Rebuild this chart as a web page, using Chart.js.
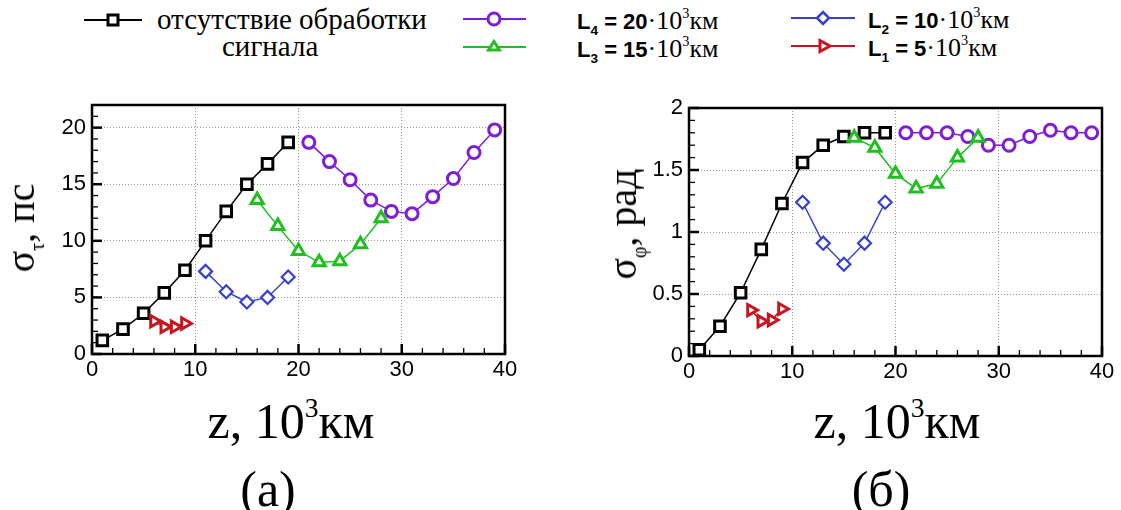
<!DOCTYPE html>
<html>
<head>
<meta charset="utf-8">
<script src="https://cdn.jsdelivr.net/npm/chart.js@4/dist/chart.umd.min.js"></script>
<style>
  body { margin: 0; background: #fff; width: 1121px; height: 510px; position: relative; overflow: hidden;
         font-family: "Liberation Serif", "Times New Roman", serif; color: #000; }
  .abs { position: absolute; white-space: nowrap; line-height: 1; }
  canvas { position: absolute; }
  .leg { font-size: 29px; }
  .legL { font-size: 26px; }
  .bold { font-family: "Liberation Sans", Arial, sans-serif; font-weight: bold; font-size: 22px; }
  .lsub { font-size: 0.62em; vertical-align: -0.45em; }
  .sup { font-size: 0.55em; vertical-align: 0.75em; }
  .title { font-size: 50px; }
  .ytitle { font-size: 40px; }
  .ysub { font-size: 0.5em; vertical-align: -0.5em; }
  .rot { transform: translate(-50%, -50%) rotate(-90deg); }
  .ctr { transform: translate(-50%, -50%); }
</style>
</head>
<body>

<!-- legend -->
<svg class="abs" style="left:0;top:0" width="1121" height="70">
  <line x1="84" y1="20" x2="142" y2="20" stroke="#000" stroke-width="2"/>
  <rect x="108" y="15" width="10" height="10" fill="#fff" stroke="#000" stroke-width="3"/>
  <line x1="463" y1="19" x2="526" y2="19" stroke="#7f1dd9" stroke-width="2"/>
  <circle cx="494" cy="19" r="6" fill="#fff" stroke="#7f1dd9" stroke-width="3"/>
  <line x1="463" y1="47" x2="526" y2="47" stroke="#1fbf1f" stroke-width="2"/>
  <polygon points="494,41.5 499.5,50 488.5,50" fill="#fff" stroke="#1fbf1f" stroke-width="3"/>
  <line x1="791" y1="18" x2="855" y2="18" stroke="#3540d0" stroke-width="2"/>
  <polygon points="823,12 829,18 823,24 817,18" fill="#fff" stroke="#3540d0" stroke-width="2.5"/>
  <line x1="791" y1="46" x2="855" y2="46" stroke="#c8141e" stroke-width="2"/>
  <polygon points="830,46 820,40.5 820,51.5" fill="#fff" stroke="#c8141e" stroke-width="3"/>
</svg>
<div class="abs leg" style="left:157px;top:5px">отсутствие обработки</div>
<div class="abs leg" style="left:222px;top:32px">сигнала</div>
<div class="abs" style="left:577px;top:6px"><span class="bold">L<span class="lsub">4</span> = 20</span><span class="legL">·10<span class="sup">3</span>км</span></div>
<div class="abs" style="left:577px;top:34px"><span class="bold">L<span class="lsub">3</span> = 15</span><span class="legL">·10<span class="sup">3</span>км</span></div>
<div class="abs" style="left:868px;top:5px"><span class="bold">L<span class="lsub">2</span> = 10</span><span class="legL">·10<span class="sup">3</span>км</span></div>
<div class="abs" style="left:868px;top:33px"><span class="bold">L<span class="lsub">1</span> = 5</span><span class="legL">·10<span class="sup">3</span>км</span></div>

<canvas id="chartTau" width="540" height="310" style="left:0;top:80px"></canvas>
<canvas id="chartPhi" width="531" height="310" style="left:590px;top:80px"></canvas>

<!-- axis titles -->
<div class="abs ytitle rot" style="left:24px;top:228px">σ<span class="ysub">τ</span>, пс</div>
<div class="abs ytitle rot" style="left:626px;top:224px">σ<span class="ysub">φ</span>, рад</div>
<div class="abs title ctr" style="left:291px;top:420px">z, 10<span class="sup">3</span>км</div>
<div class="abs title ctr" style="left:897px;top:420px">z, 10<span class="sup">3</span>км</div>
<div class="abs title ctr" style="left:268px;top:489px">(а)</div>
<div class="abs title ctr" style="left:881px;top:489px">(б)</div>

<script>
// distances, 10^3 km
const zBase = [1, 3, 5, 7, 9, 11, 13, 15, 17, 19];
const zL1 = [6, 7, 8, 9];
const zL2 = [11, 13, 15, 17, 19];
const zL3 = [16, 18, 20, 22, 24, 26, 28];
const zL4 = [21, 23, 25, 27, 29, 31, 33, 35, 37, 39];

// sigma_tau, ps
const tauBase = [1.2, 2.2, 3.6, 5.4, 7.4, 10.0, 12.6, 15.0, 16.8, 18.7];
const tauL1 = [2.9, 2.4, 2.4, 2.7];
const tauL2 = [7.3, 5.5, 4.6, 5.0, 6.8];
const tauL3 = [13.6, 11.3, 9.1, 8.1, 8.2, 9.7, 12.0];
const tauL4 = [18.7, 17.0, 15.4, 13.6, 12.6, 12.4, 13.9, 15.5, 17.8, 19.8];

// sigma_phi, rad
const phiBase = [0.05, 0.24, 0.51, 0.86, 1.23, 1.56, 1.70, 1.77, 1.80, 1.80];
const phiL1 = [0.37, 0.28, 0.29, 0.38];
const phiL2 = [1.24, 0.91, 0.74, 0.91, 1.24];
const phiL3 = [1.76, 1.68, 1.47, 1.35, 1.39, 1.60, 1.76];
const phiL4 = [1.80, 1.80, 1.80, 1.77, 1.70, 1.70, 1.77, 1.82, 1.80, 1.80];

const xTicks = [0, 10, 20, 30, 40];

const pts = (xs, ys) => xs.map((x, i) => ({x: x, y: ys[i]}));

function series(data, color, style, radius, border, rotation, order) {
  return {
    data: data,
    borderColor: color,
    borderWidth: 1.5,
    pointStyle: style,
    pointRadius: radius,
    pointBorderWidth: border,
    pointBorderColor: color,
    pointBackgroundColor: '#fff',
    pointRotation: rotation || 0,
    fill: false,
    tension: 0,
    order: order
  };
}

// inside minor/major ticks and the frame
const frameTicks = {
  id: 'frameTicks',
  afterDraw(chart, args, opts) {
    const {ctx, chartArea: a, scales: {x, y}} = chart;
    ctx.save();
    ctx.strokeStyle = '#000';
    const nx = Math.round((x.max - x.min) / opts.xStep);
    for (let i = 0; i <= nx; i++) {
      const v = x.min + i * opts.xStep;
      const px = x.getPixelForValue(v);
      const major = Math.abs(v / opts.xMajor - Math.round(v / opts.xMajor)) < 1e-6;
      ctx.lineWidth = major ? 2.5 : 1.3;
      ctx.beginPath();
      ctx.moveTo(px, a.bottom);
      ctx.lineTo(px, a.bottom - (major ? 10 : 6));
      ctx.stroke();
    }
    const ny = Math.round((y.max - y.min) / opts.yStep);
    for (let i = 0; i <= ny; i++) {
      const v = y.min + i * opts.yStep;
      const py = y.getPixelForValue(v);
      const major = Math.abs(v / opts.yMajor - Math.round(v / opts.yMajor)) < 1e-6;
      ctx.lineWidth = major ? 2.5 : 1.3;
      ctx.beginPath();
      ctx.moveTo(a.left, py);
      ctx.lineTo(a.left + (major ? 10 : 6), py);
      ctx.stroke();
    }
    ctx.lineWidth = 2.5;
    ctx.strokeRect(a.left, a.top, a.width, a.height);
    ctx.restore();
  }
};

function gridColor(max) {
  return c => (c.tick && c.tick.value > 0 && c.tick.value < max) ? '#9a9a9a' : 'rgba(0,0,0,0)';
}

function makeChart(id, sets, yMax, yStep, yMinor, box) {
  return new Chart(document.getElementById(id), {
    type: 'line',
    data: {datasets: sets},
    options: {
      responsive: false,
      animation: false,
      devicePixelRatio: 1,
      layout: {padding: {left: 0, top: box.top, right: box.right, bottom: 0}},
      plugins: {
        legend: {display: false},
        tooltip: {enabled: false},
        frameTicks: {xStep: 2, xMajor: 10, yStep: yMinor, yMajor: yStep}
      },
      scales: {
        x: {
          type: 'linear', min: 0, max: 40,
          afterBuildTicks: s => { s.ticks = xTicks.map(v => ({value: v})); },
          afterFit: s => { s.height = box.xh; },
          ticks: {font: {family: 'Liberation Sans', size: 22}, color: '#000', padding: 3, maxRotation: 0},
          grid: {color: gridColor(40), lineWidth: 1, drawTicks: false},
          border: {display: false, dash: [1, 2]}
        },
        y: {
          type: 'linear', min: 0, max: yMax,
          ticks: {
            stepSize: yStep, includeBounds: false,
            callback: v => String(Math.round(v * 10) / 10),
            font: {family: 'Liberation Sans', size: 22}, color: '#000', padding: 6
          },
          afterFit: s => { s.width = box.yw; },
          grid: {color: gridColor(yMax), lineWidth: 1, drawTicks: false},
          border: {display: false, dash: [1, 2]}
        }
      }
    },
    plugins: [frameTicks]
  });
}

const black = '#000', purple = '#7f1dd9', green = '#1fbf1f', blue = '#3540d0', red = '#c8141e';

makeChart('chartTau', [
  series(pts(zBase, tauBase), black, 'rect', 7.5, 3, 0, 3),
  series(pts(zL4, tauL4), purple, 'circle', 6, 3, 0, 2),
  series(pts(zL3, tauL3), green, 'triangle', 7, 3, 0, 1),
  series(pts(zL2, tauL2), blue, 'rectRot', 6.5, 2.2, 0, 2),
  series(pts(zL1, tauL1), red, 'triangle', 6.5, 3, 90, 1)
], 22, 5, 1, {top: 25, right: 35, xh: 36, yw: 92});

makeChart('chartPhi', [
  series(pts(zBase, phiBase), black, 'rect', 7.5, 3, 0, 3),
  series(pts(zL4, phiL4), purple, 'circle', 6, 3, 0, 2),
  series(pts(zL3, phiL3), green, 'triangle', 7, 3, 0, 1),
  series(pts(zL2, phiL2), blue, 'rectRot', 6.5, 2.2, 0, 2),
  series(pts(zL1, phiL1), red, 'triangle', 6.5, 3, 90, 1)
], 2, 0.5, 0.1, {top: 28, right: 19, xh: 34, yw: 99});
</script>
</body>
</html>
